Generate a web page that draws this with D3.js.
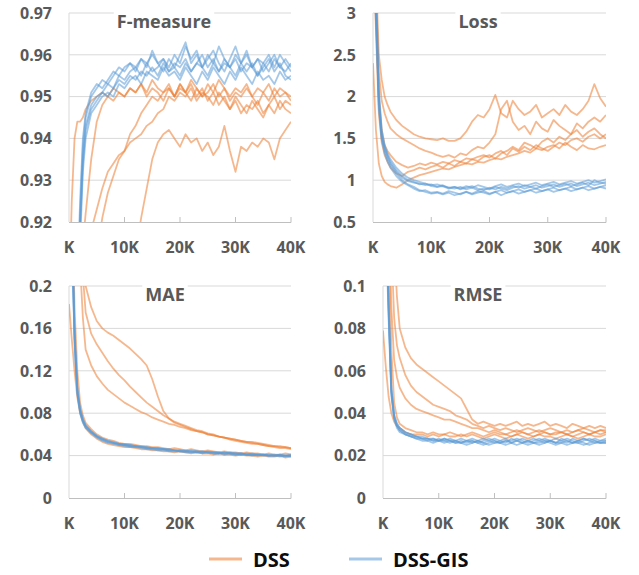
<!DOCTYPE html>
<html>
<head>
<meta charset="utf-8">
<style>
  body { margin: 0; background: #fff; }
  text { font-family: "Open Sans", sans-serif; font-weight: bold; }
</style>
</head>
<body>
<svg id="chart" width="639" height="575"></svg>
<script src="https://d3js.org/d3.v7.min.js"></script>
<script>

// iterations (in thousands), shared by every curve
var steps = [0,0.5,1,1.5,2,2.5,3,4,5,6,7,8,9,10,11,12,13,14,15,16,17,18,19,20,21,22,23,24,25,26,27,28,29,30,31,32,33,34,35,36,37,38,39,40];

var xTicks = [0, 10, 20, 30, 40];
var xTickLabels = ["K", "10K", "20K", "30K", "40K"];

var seriesNames = ["DSS", "DSS-GIS"];

// F-measure
var fmTicks = [0.92, 0.93, 0.94, 0.95, 0.96, 0.97];
var fmLabels = ["0.92", "0.93", "0.94", "0.95", "0.96", "0.97"];
var fmDSS = [
  [.90,.925,.94,.944,.944,.945,.947,.949,.950,.951,.950,.952,.951,.950,.952,.951,.953,.950,.952,.951,.949,.952,.950,.953,.951,.949,.952,.950,.951,.953,.950,.952,.949,.951,.950,.952,.950,.948,.951,.949,.952,.950,.951,.949],
  [.88,.88,.89,.90,.91,.915,.922,.935,.944,.948,.950,.949,.951,.950,.952,.951,.953,.951,.954,.952,.951,.953,.950,.952,.951,.953,.950,.952,.949,.951,.948,.950,.947,.949,.946,.948,.947,.949,.946,.948,.950,.947,.949,.948],
  [.85,.85,.86,.87,.88,.89,.90,.905,.912,.921,.927,.931,.935,.937,.941,.943,.946,.948,.950,.949,.951,.952,.950,.953,.951,.954,.952,.950,.953,.951,.954,.952,.950,.952,.951,.953,.950,.952,.951,.953,.950,.952,.951,.950],
  [.85,.85,.86,.87,.88,.89,.90,.918,.923,.928,.932,.934,.936,.937,.939,.940,.941,.943,.944,.946,.947,.950,.949,.951,.950,.952,.949,.951,.950,.948,.951,.949,.947,.950,.948,.946,.949,.947,.945,.948,.946,.949,.947,.946],
  [.85,.85,.85,.85,.85,.85,.85,.86,.86,.87,.87,.88,.89,.90,.91,.912,.921,.928,.935,.939,.941,.942,.940,.938,.941,.939,.940,.937,.939,.936,.938,.943,.937,.932,.938,.937,.939,.938,.940,.939,.935,.940,.942,.944]
];
var fmGIS = [
  [.88,.88,.89,.905,.925,.94,.946,.951,.953,.952,.954,.956,.955,.957,.958,.956,.959,.958,.960,.958,.959,.957,.960,.958,.962,.959,.961,.957,.960,.958,.962,.959,.957,.960,.958,.961,.957,.959,.958,.960,.957,.960,.958,.956],
  [.87,.87,.88,.90,.92,.935,.943,.948,.950,.951,.953,.952,.955,.954,.956,.957,.955,.958,.956,.957,.959,.956,.958,.957,.959,.956,.958,.960,.957,.959,.956,.958,.957,.959,.956,.958,.957,.955,.958,.956,.959,.957,.956,.958],
  [.86,.86,.87,.89,.915,.932,.940,.946,.948,.950,.951,.950,.953,.952,.954,.955,.953,.956,.955,.954,.957,.955,.956,.954,.957,.955,.953,.956,.954,.957,.955,.953,.956,.954,.957,.955,.953,.956,.954,.955,.953,.956,.954,.955],
  [.87,.87,.88,.90,.922,.938,.945,.950,.952,.954,.953,.955,.957,.956,.958,.957,.959,.957,.961,.958,.956,.959,.957,.960,.963,.958,.960,.957,.959,.961,.958,.956,.959,.962,.958,.960,.957,.959,.956,.958,.960,.957,.959,.957],
  [.86,.86,.87,.895,.918,.934,.942,.947,.949,.951,.950,.952,.954,.953,.955,.954,.956,.955,.957,.955,.958,.956,.957,.955,.958,.956,.958,.957,.955,.958,.956,.959,.957,.955,.958,.956,.958,.955,.957,.959,.956,.958,.955,.954]
];

// Loss
var lossTicks = [0.5, 1, 1.5, 2, 2.5, 3];
var lossLabels = ["0.5", "1", "1.5", "2", "2.5", "3"];
var lossDSS = [
  [2.4,1.6,1.2,1.05,0.98,0.95,0.93,0.91,0.95,1.0,1.03,1.06,1.08,1.1,1.12,1.14,1.13,1.16,1.18,1.2,1.19,1.22,1.21,1.24,1.26,1.25,1.28,1.3,1.32,1.35,1.33,1.38,1.36,1.4,1.42,1.38,1.45,1.4,1.36,1.42,1.38,1.37,1.40,1.42],
  [4.5,3.5,2.5,2.2,2.0,1.9,1.82,1.72,1.65,1.6,1.55,1.52,1.5,1.49,1.48,1.5,1.47,1.47,1.5,1.58,1.7,1.78,1.75,1.85,2.02,1.8,1.75,1.95,1.85,1.78,1.82,1.9,1.75,1.8,1.85,1.78,1.9,1.82,1.78,1.85,1.95,2.15,1.98,1.88],
  [4.2,3.2,2.3,1.95,1.8,1.7,1.62,1.55,1.5,1.46,1.42,1.38,1.35,1.33,1.3,1.28,1.3,1.27,1.32,1.3,1.36,1.4,1.38,1.45,1.55,1.85,1.95,1.7,1.6,1.65,1.55,1.7,1.62,1.58,1.72,1.65,1.6,1.55,1.68,1.62,1.7,1.75,1.7,1.78],
  [4.0,3.0,2.0,1.6,1.42,1.35,1.3,1.22,1.18,1.15,1.17,1.2,1.18,1.21,1.19,1.22,1.2,1.24,1.22,1.26,1.25,1.28,1.3,1.27,1.32,1.35,1.3,1.38,1.34,1.4,1.36,1.42,1.38,1.35,1.4,1.45,1.42,1.48,1.5,1.46,1.52,1.55,1.5,1.55],
  [3.9,2.8,1.8,1.45,1.3,1.22,1.15,1.08,1.05,1.1,1.12,1.15,1.13,1.16,1.18,1.15,1.2,1.17,1.22,1.2,1.25,1.23,1.28,1.3,1.26,1.32,1.35,1.4,1.36,1.45,1.42,1.38,1.46,1.5,1.45,1.52,1.48,1.55,1.6,1.52,1.58,1.62,1.55,1.5]
];
var lossGIS = [
  [4.0,3.2,2.0,1.55,1.4,1.3,1.22,1.12,1.05,1.0,0.98,0.95,0.96,0.93,0.92,0.94,0.91,0.90,0.92,0.89,0.91,0.88,0.90,0.89,0.92,0.90,0.88,0.91,0.93,0.90,0.92,0.94,0.91,0.93,0.95,0.92,0.94,0.96,0.93,0.95,0.97,0.94,0.96,0.98],
  [3.8,3.0,1.9,1.5,1.35,1.25,1.18,1.08,1.0,0.95,0.92,0.88,0.86,0.84,0.85,0.83,0.85,0.82,0.84,0.86,0.83,0.85,0.87,0.84,0.86,0.82,0.85,0.87,0.84,0.86,0.88,0.85,0.87,0.89,0.86,0.88,0.90,0.87,0.89,0.91,0.88,0.90,0.92,0.90],
  [3.9,3.1,1.95,1.52,1.38,1.28,1.2,1.1,1.03,0.99,0.97,0.96,0.94,0.95,0.92,0.93,0.91,0.92,0.90,0.93,0.91,0.94,0.92,0.90,0.93,0.95,0.92,0.94,0.96,0.93,0.95,0.97,0.94,0.96,0.98,0.95,0.97,0.99,0.96,0.98,1.0,0.97,0.99,1.01],
  [3.7,2.9,1.85,1.48,1.32,1.22,1.15,1.05,0.98,0.94,0.90,0.87,0.88,0.85,0.86,0.84,0.87,0.85,0.83,0.86,0.84,0.87,0.85,0.83,0.86,0.88,0.85,0.87,0.89,0.86,0.88,0.90,0.87,0.89,0.91,0.88,0.90,0.92,0.89,0.91,0.93,0.90,0.92,0.94],
  [4.1,3.4,2.1,1.6,1.42,1.32,1.25,1.15,1.08,1.03,1.0,0.98,0.96,0.94,0.95,0.93,0.90,0.92,0.89,0.91,0.93,0.90,0.88,0.91,0.89,0.92,0.90,0.93,0.91,0.94,0.92,0.90,0.93,0.95,0.92,0.94,0.96,0.93,0.95,0.97,0.94,1.0,0.97,0.96]
];

// MAE
var maeTicks = [0, 0.04, 0.08, 0.12, 0.16, 0.2];
var maeLabels = ["0", "0.04", "0.08", "0.12", "0.16", "0.2"];
var maeDSS = [
  [0.183,0.15,0.12,0.095,0.08,0.072,0.066,0.06,0.056,0.053,0.051,0.05,0.049,0.048,0.048,0.047,0.046,0.046,0.045,0.045,0.044,0.044,0.043,0.044,0.043,0.042,0.043,0.042,0.042,0.041,0.042,0.041,0.041,0.040,0.041,0.040,0.040,0.039,0.040,0.039,0.039,0.040,0.038,0.039],
  [0.45,0.3,0.18,0.12,0.09,0.078,0.071,0.065,0.06,0.057,0.055,0.054,0.052,0.051,0.051,0.050,0.049,0.049,0.048,0.048,0.047,0.046,0.047,0.046,0.045,0.046,0.045,0.044,0.045,0.044,0.043,0.044,0.043,0.043,0.042,0.043,0.042,0.042,0.041,0.042,0.041,0.041,0.042,0.041],
  [0.6,0.5,0.4,0.3,0.22,0.17,0.14,0.125,0.115,0.108,0.102,0.098,0.094,0.09,0.087,0.084,0.081,0.079,0.076,0.074,0.072,0.07,0.069,0.067,0.066,0.064,0.063,0.062,0.060,0.059,0.058,0.057,0.056,0.055,0.054,0.053,0.053,0.052,0.051,0.050,0.049,0.049,0.048,0.047],
  [0.8,0.6,0.45,0.35,0.27,0.21,0.175,0.155,0.145,0.137,0.129,0.122,0.116,0.111,0.105,0.1,0.095,0.09,0.086,0.082,0.078,0.075,0.072,0.07,0.068,0.066,0.064,0.063,0.061,0.06,0.058,0.057,0.056,0.055,0.054,0.053,0.052,0.051,0.05,0.049,0.048,0.047,0.047,0.046],
  [1.0,0.8,0.6,0.45,0.32,0.25,0.2,0.18,0.167,0.16,0.156,0.153,0.149,0.145,0.141,0.136,0.131,0.125,0.112,0.096,0.082,0.075,0.071,0.069,0.067,0.065,0.063,0.062,0.06,0.059,0.058,0.057,0.055,0.054,0.053,0.052,0.051,0.051,0.05,0.049,0.049,0.048,0.048,0.047]
];
var maeGIS = [
  [0.40,0.26,0.15,0.100,0.082,0.073,0.068,0.062,0.058,0.055,0.053,0.052,0.051,0.050,0.049,0.049,0.048,0.047,0.047,0.046,0.046,0.045,0.045,0.044,0.044,0.044,0.043,0.044,0.043,0.043,0.042,0.043,0.042,0.042,0.041,0.042,0.041,0.041,0.041,0.040,0.041,0.040,0.040,0.040],
  [0.42,0.27,0.16,0.105,0.085,0.075,0.069,0.063,0.059,0.056,0.054,0.053,0.051,0.050,0.050,0.049,0.048,0.048,0.047,0.047,0.046,0.046,0.045,0.045,0.044,0.045,0.044,0.043,0.044,0.043,0.043,0.042,0.043,0.042,0.042,0.041,0.042,0.041,0.041,0.041,0.040,0.041,0.040,0.041],
  [0.39,0.25,0.145,0.098,0.080,0.071,0.066,0.061,0.057,0.054,0.052,0.051,0.050,0.049,0.048,0.048,0.047,0.046,0.046,0.045,0.045,0.044,0.044,0.044,0.043,0.043,0.043,0.042,0.043,0.042,0.042,0.041,0.042,0.041,0.041,0.041,0.040,0.041,0.040,0.040,0.040,0.039,0.040,0.039],
  [0.41,0.26,0.155,0.102,0.083,0.074,0.068,0.063,0.058,0.056,0.054,0.052,0.051,0.051,0.050,0.049,0.049,0.048,0.047,0.047,0.046,0.046,0.045,0.045,0.045,0.044,0.044,0.044,0.043,0.043,0.043,0.042,0.042,0.042,0.042,0.041,0.041,0.041,0.041,0.040,0.040,0.041,0.040,0.040],
  [0.40,0.25,0.15,0.099,0.081,0.072,0.067,0.062,0.058,0.055,0.053,0.052,0.050,0.050,0.049,0.048,0.048,0.047,0.046,0.046,0.046,0.045,0.045,0.044,0.044,0.043,0.044,0.043,0.043,0.042,0.042,0.043,0.042,0.041,0.042,0.041,0.041,0.040,0.041,0.040,0.040,0.040,0.039,0.040]
];

// RMSE
var rmseTicks = [0, 0.02, 0.04, 0.06, 0.08, 0.1];
var rmseLabels = ["0", "0.02", "0.04", "0.06", "0.08", "0.1"];
var rmseDSS = [
  [0.079,0.062,0.048,0.04,0.036,0.034,0.033,0.031,0.030,0.030,0.030,0.029,0.030,0.029,0.030,0.029,0.029,0.030,0.029,0.030,0.029,0.028,0.029,0.030,0.029,0.028,0.029,0.030,0.029,0.028,0.029,0.030,0.029,0.029,0.028,0.029,0.030,0.029,0.028,0.029,0.030,0.029,0.029,0.030],
  [0.3,0.2,0.12,0.07,0.045,0.038,0.035,0.033,0.032,0.031,0.031,0.030,0.031,0.030,0.030,0.031,0.030,0.029,0.030,0.031,0.030,0.029,0.030,0.031,0.030,0.030,0.029,0.030,0.031,0.030,0.029,0.030,0.031,0.030,0.030,0.031,0.030,0.029,0.030,0.031,0.030,0.031,0.030,0.031],
  [0.5,0.35,0.25,0.17,0.12,0.095,0.08,0.071,0.066,0.063,0.061,0.059,0.057,0.055,0.053,0.051,0.049,0.047,0.042,0.037,0.035,0.036,0.035,0.034,0.035,0.034,0.035,0.036,0.034,0.035,0.034,0.035,0.036,0.034,0.035,0.034,0.033,0.035,0.034,0.033,0.034,0.033,0.034,0.033],
  [0.4,0.28,0.18,0.12,0.085,0.072,0.066,0.058,0.053,0.05,0.048,0.046,0.044,0.043,0.042,0.041,0.039,0.038,0.037,0.035,0.034,0.033,0.034,0.033,0.032,0.033,0.032,0.031,0.032,0.033,0.032,0.031,0.032,0.033,0.032,0.031,0.032,0.031,0.032,0.033,0.032,0.031,0.032,0.032],
  [0.35,0.22,0.14,0.09,0.065,0.057,0.052,0.047,0.044,0.042,0.041,0.040,0.039,0.038,0.037,0.037,0.036,0.035,0.034,0.033,0.033,0.032,0.031,0.032,0.031,0.030,0.031,0.032,0.031,0.030,0.031,0.032,0.031,0.030,0.031,0.031,0.030,0.031,0.032,0.031,0.030,0.031,0.032,0.031]
];
var rmseGIS = [
  [0.2,0.14,0.09,0.05,0.038,0.034,0.032,0.030,0.029,0.029,0.028,0.028,0.027,0.028,0.027,0.028,0.027,0.026,0.027,0.028,0.027,0.026,0.027,0.026,0.027,0.028,0.026,0.027,0.026,0.027,0.028,0.027,0.026,0.027,0.026,0.028,0.027,0.026,0.027,0.028,0.027,0.026,0.027,0.027],
  [0.21,0.15,0.095,0.052,0.039,0.035,0.033,0.031,0.030,0.029,0.029,0.028,0.028,0.027,0.028,0.027,0.026,0.027,0.026,0.027,0.026,0.025,0.026,0.027,0.026,0.025,0.026,0.027,0.026,0.025,0.026,0.026,0.027,0.026,0.025,0.026,0.027,0.026,0.026,0.025,0.026,0.027,0.026,0.026],
  [0.19,0.13,0.085,0.048,0.037,0.033,0.031,0.030,0.029,0.028,0.028,0.027,0.028,0.027,0.027,0.026,0.027,0.028,0.027,0.026,0.027,0.028,0.027,0.028,0.027,0.026,0.028,0.027,0.028,0.027,0.026,0.027,0.028,0.027,0.028,0.027,0.026,0.028,0.027,0.028,0.027,0.028,0.027,0.028],
  [0.2,0.14,0.088,0.05,0.038,0.034,0.032,0.030,0.029,0.028,0.027,0.027,0.026,0.027,0.026,0.027,0.026,0.026,0.025,0.026,0.027,0.026,0.025,0.026,0.026,0.027,0.026,0.025,0.026,0.027,0.026,0.025,0.026,0.027,0.026,0.026,0.025,0.026,0.027,0.026,0.025,0.026,0.026,0.026],
  [0.22,0.15,0.092,0.051,0.039,0.035,0.033,0.031,0.030,0.029,0.028,0.028,0.027,0.027,0.028,0.027,0.027,0.026,0.027,0.027,0.026,0.027,0.028,0.027,0.026,0.027,0.027,0.028,0.027,0.026,0.027,0.028,0.027,0.027,0.026,0.027,0.028,0.027,0.026,0.027,0.028,0.027,0.026,0.027]
];

var colors = ["#ED7D31", "#5B9BD5"];
var textColor = "#595959";

var panels = [
  {title: "F-measure", ticks: fmTicks, labels: fmLabels, series: [fmDSS, fmGIS], left: 69, right: 291, top: 13, bottom: 222, titleX: 164},
  {title: "Loss", ticks: lossTicks, labels: lossLabels, series: [lossDSS, lossGIS], left: 373, right: 606, top: 13, bottom: 222, titleX: 478},
  {title: "MAE", ticks: maeTicks, labels: maeLabels, series: [maeDSS, maeGIS], left: 69, right: 291, top: 286, bottom: 498, titleX: 165},
  {title: "RMSE", ticks: rmseTicks, labels: rmseLabels, series: [rmseDSS, rmseGIS], left: 383, right: 606, top: 286, bottom: 498, titleX: 478}
];

var svg = d3.select("#chart");

panels.forEach(function(p, i) {
  var x = d3.scaleLinear().domain([0, 40]).range([p.left, p.right]);
  var y = d3.scaleLinear().domain(d3.extent(p.ticks)).range([p.bottom, p.top]);
  var g = svg.append("g");

  // horizontal gridlines
  g.selectAll(".grid")
    .data(p.ticks.slice(1))
    .enter()
    .append("line")
      .attr("x1", p.left).attr("x2", p.right)
      .attr("y1", function(d) { return y(d); })
      .attr("y2", function(d) { return y(d); })
      .attr("stroke", "#d9d9d9")
      .attr("stroke-width", 1);

  // vertical axis line
  g.append("line")
    .attr("x1", p.left).attr("x2", p.left)
    .attr("y1", p.top).attr("y2", p.bottom)
    .attr("stroke", "#d9d9d9");

  // y labels
  g.selectAll(".ylab")
    .data(p.ticks)
    .enter()
    .append("text")
      .attr("x", p.left - 17)
      .attr("y", function(d) { return y(d); })
      .attr("dy", "0.36em")
      .attr("text-anchor", "end")
      .attr("fill", textColor)
      .style("font-size", "16px")
      .text(function(d, j) { return p.labels[j]; });

  // clip curves to plot area
  g.append("clipPath")
    .attr("id", "clip" + i)
    .append("rect")
      .attr("x", p.left).attr("y", p.top)
      .attr("width", p.right - p.left)
      .attr("height", p.bottom - p.top);

  var line = d3.line()
    .x(function(d) { return x(d[0]); })
    .y(function(d) { return y(d[1]); });

  var curves = g.append("g").attr("clip-path", "url(#clip" + i + ")");
  p.series.forEach(function(group, s) {
    curves.selectAll(".c" + s)
      .data(group)
      .enter()
      .append("path")
        .attr("d", function(vals) { return line(d3.zip(steps, vals)); })
        .attr("fill", "none")
        .attr("stroke", colors[s])
        .attr("stroke-width", 1.8)
        .attr("stroke-opacity", 0.55)
        .attr("stroke-linejoin", "round");
  });

  // bottom axis with upward ticks
  g.append("line")
    .attr("x1", p.left).attr("x2", p.right)
    .attr("y1", p.bottom + 0.5).attr("y2", p.bottom + 0.5)
    .attr("stroke", "#bfbfbf");
  g.selectAll(".xtick")
    .data(xTicks.slice(1))
    .enter()
    .append("line")
      .attr("x1", function(d) { return x(d); })
      .attr("x2", function(d) { return x(d); })
      .attr("y1", p.bottom - 5).attr("y2", p.bottom + 0.5)
      .attr("stroke", "#bfbfbf");
  g.selectAll(".xlab")
    .data(xTicks)
    .enter()
    .append("text")
      .attr("x", function(d) { return x(d); })
      .attr("y", p.bottom + 31)
      .attr("text-anchor", "middle")
      .attr("fill", textColor)
      .style("font-size", "16px")
      .text(function(d, j) { return xTickLabels[j]; });

  // title on white box over the top gridline
  var title = g.append("text")
    .attr("x", p.titleX)
    .attr("y", p.top + 14.5)
    .attr("text-anchor", "middle")
    .attr("fill", textColor)
    .style("font-size", "18px")
    .text(p.title);
  var bb = title.node().getBBox();
  g.insert("rect", "text:last-of-type")
    .attr("x", bb.x - 3).attr("y", p.top - 3)
    .attr("width", bb.width + 6).attr("height", 8)
    .attr("fill", "#fff");
  title.raise();
});

// legend
var legendX = [209, 349];
seriesNames.forEach(function(name, s) {
  svg.append("line")
    .attr("x1", legendX[s]).attr("x2", legendX[s] + 33)
    .attr("y1", 559).attr("y2", 559)
    .attr("stroke", colors[s])
    .attr("stroke-opacity", 0.55)
    .attr("stroke-width", 3);
  svg.append("text")
    .attr("x", legendX[s] + 44)
    .attr("y", 567)
    .attr("fill", "#0d0d0d")
    .style("font-size", "20px")
    .text(name);
});

</script>
</body>
</html>
